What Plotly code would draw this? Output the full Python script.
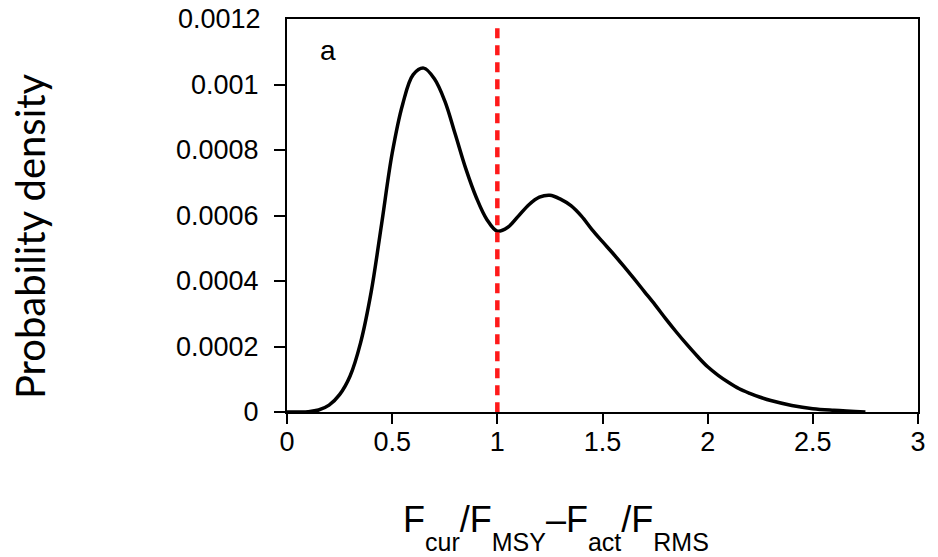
import plotly.graph_objects as go

# ---- data ----
density_x = [0.0, 0.10, 0.15, 0.20, 0.25, 0.30, 0.35, 0.40, 0.45, 0.50, 0.55, 0.60, 0.65,
             0.70, 0.75, 0.80, 0.85, 0.90, 0.95, 1.00, 1.05, 1.10, 1.15, 1.20, 1.25, 1.30,
             1.35, 1.40, 1.45, 1.50, 1.55, 1.60, 1.65, 1.70, 1.75, 1.80, 1.85, 1.90, 1.95,
             2.00, 2.05, 2.10, 2.15, 2.20, 2.25, 2.30, 2.40, 2.50, 2.60, 2.75]
density_y = [0.0, 0.000001, 0.000006, 0.000021, 0.000053, 0.00011, 0.000212, 0.000366,
             0.000575, 0.00079, 0.00094, 0.00103, 0.00105, 0.001018, 0.00095, 0.000848,
             0.000743, 0.000655, 0.000588, 0.000552, 0.000564, 0.000598, 0.000633, 0.000656,
             0.000662, 0.00065, 0.00063, 0.000598, 0.000557, 0.00052, 0.000484, 0.000446,
             0.000407, 0.000367, 0.000327, 0.000285, 0.000245, 0.000207, 0.000171, 0.000138,
             0.000112, 0.00009, 0.000071, 0.000057, 0.000045, 0.000035, 0.00002, 0.00001,
             0.000005, 0.0]

ref_line_x = [1.0, 1.0]
ref_line_y = [0.001172, 0.0]

x_tick_vals = [0, 0.5, 1, 1.5, 2, 2.5, 3]
x_tick_text = ["0", "0.5", "1", "1.5", "2", "2.5", "3"]
y_tick_vals = [0, 0.0002, 0.0004, 0.0006, 0.0008, 0.001]
y_tick_text = ["0", "0.0002", "0.0004", "0.0006", "0.0008", "0.001"]
y_top_val = 0.0012
y_top_text = "0.0012"

panel_label = "a"
y_title = "Probability density"
x_title_parts = [("F", "cur"), ("/F", "MSY"), ("\u2013F", "act"), ("/F", "RMS")]

TICK_FONT = dict(family="Liberation Sans, Arial, sans-serif", size=27, color="black")

fig = go.Figure()
fig.add_trace(go.Scatter(x=density_x, y=density_y, mode="lines",
                         line=dict(color="black", width=3.5, shape="spline", smoothing=1.0),
                         hoverinfo="skip", showlegend=False))
fig.add_trace(go.Scatter(x=ref_line_x, y=ref_line_y, mode="lines",
                         line=dict(color="#ff1a1a", width=4.5, dash="10px,7px"),
                         hoverinfo="skip", showlegend=False))

sub_style = "font-size:25px;baseline-shift:-19px"
x_title_html = "".join(f'{main}<span style="{sub_style}">{sub}</span>' for main, sub in x_title_parts)

fig.update_layout(
    width=938, height=557,
    margin=dict(l=287, r=15, t=19, b=145),
    paper_bgcolor="white", plot_bgcolor="white",
    xaxis=dict(range=[0, 3], tickvals=x_tick_vals, ticktext=x_tick_text,
               showline=True, mirror=True, linecolor="black", linewidth=2,
               ticks="outside", ticklen=10, tickwidth=2, tickcolor="black",
               showgrid=False, zeroline=False, tickfont=TICK_FONT,
               ticklabelstandoff=-5),
    yaxis=dict(range=[0, y_top_val], tickvals=y_tick_vals, ticktext=y_tick_text,
               showline=True, mirror=True, linecolor="black", linewidth=2,
               ticks="outside", ticklen=11, tickwidth=2, tickcolor="black",
               showgrid=False, zeroline=False, tickfont=TICK_FONT,
               ticklabelstandoff=10),
    annotations=[
        dict(text=y_top_text, xref="paper", yref="y", x=0, y=y_top_val,
             xanchor="right", yanchor="middle", xshift=-24, showarrow=False, font=TICK_FONT),
        dict(text=panel_label, xref="x", yref="paper", x=0.195, y=0.921,
             xanchor="center", yanchor="middle", showarrow=False,
             font=dict(family="Liberation Sans, Arial, sans-serif", size=28, color="black")),
        dict(text=y_title, xref="paper", yref="paper", x=-0.407, y=0.448,
             xanchor="center", yanchor="middle", textangle=-90, showarrow=False,
             font=dict(family="Lato, Calibri, sans-serif", size=40, color="black")),
        dict(text=x_title_html, xref="paper", yref="paper", x=0.426, y=-0.295,
             xanchor="center", yanchor="middle", showarrow=False,
             font=dict(family="Liberation Sans, Arial, sans-serif", size=36, color="black")),
    ],
)

fig.write_html("out.html")
